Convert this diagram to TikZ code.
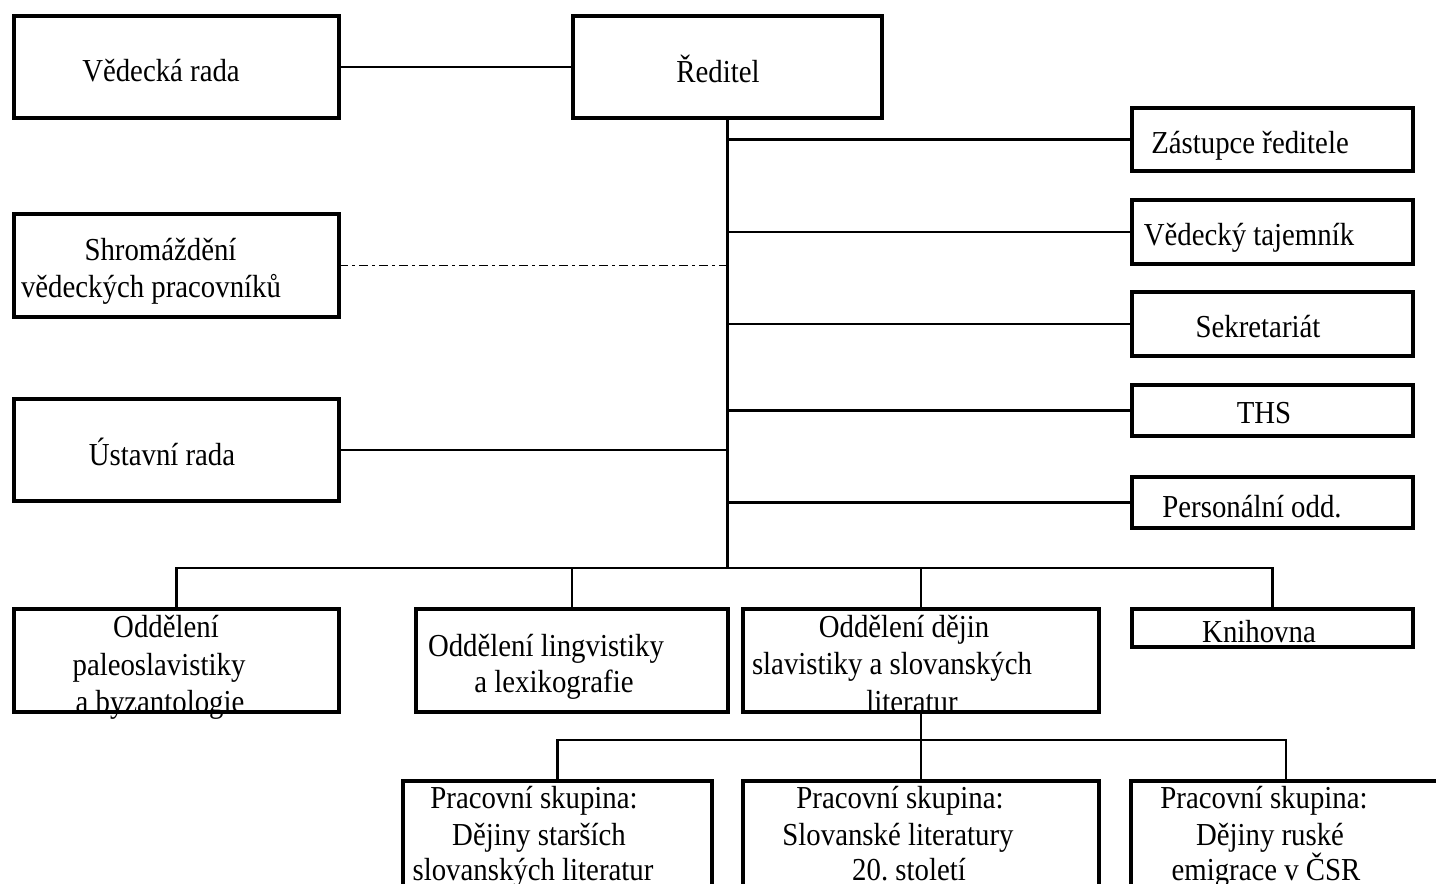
\documentclass[tikz,border=0pt]{standalone}
\usepackage{fontspec}
\setmainfont{Liberation Serif}[FakeStretch=0.9]
\frenchspacing
\begin{document}
\begin{tikzpicture}[x=1pt,y=-1pt,
  box/.style={draw, line width=3.6pt, inner sep=0pt, outer sep=0pt, rectangle},
  conn/.style={line width=2.6pt},
  txt/.style={anchor=base, inner sep=0pt, font=\fontsize{32}{37}\selectfont},
  ddot/.style={line width=1.5pt, dash pattern=on 9pt off 4pt on 3pt off 4pt}]
\useasboundingbox (0,0) rectangle (1436,884);
% boxes
\node[box, minimum width=325pt, minimum height=102pt] (vr) at (176.5,67) {};
\node[box, minimum width=309pt, minimum height=102pt] (dir) at (727.5,67) {};
\node[box, minimum width=325pt, minimum height=103pt] (sh) at (176.5,265.5) {};
\node[box, minimum width=325pt, minimum height=102pt] (ur) at (176.5,450) {};
\node[box, minimum width=281pt, minimum height=63pt] (zr) at (1272.5,139.5) {};
\node[box, minimum width=281pt, minimum height=64pt] (vt) at (1272.5,232) {};
\node[box, minimum width=281pt, minimum height=64pt] (sk) at (1272.5,324) {};
\node[box, minimum width=281pt, minimum height=51pt] (ths) at (1272.5,410.5) {};
\node[box, minimum width=281pt, minimum height=51pt] (po) at (1272.5,502.5) {};
\node[box, minimum width=325pt, minimum height=103pt] (op) at (176.5,660.5) {};
\node[box, minimum width=312pt, minimum height=103pt] (ol) at (572,660.5) {};
\node[box, minimum width=356pt, minimum height=103pt] (od) at (921,660.5) {};
\node[box, minimum width=281pt, minimum height=38pt] (kn) at (1272.5,628) {};
\node[box, minimum width=309pt, minimum height=158pt] (p1) at (557.5,860) {};
\node[box, minimum width=356pt, minimum height=158pt] (p2) at (921,860) {};
\node[box, minimum width=310pt, minimum height=158pt] (p3) at (1286,860) {};
% connectors
\coordinate (bus) at (727.5,568);
\coordinate (sbus) at (921,740);
\draw[conn] (vr.east) -- (dir.west);
\draw[conn] (dir.south) -- (bus);
\draw[conn] (dir.south |- zr.west) -- (zr.west);
\draw[conn] (dir.south |- vt.west) -- (vt.west);
\draw[conn] (dir.south |- sk.west) -- (sk.west);
\draw[conn] (dir.south |- ths.west) -- (ths.west);
\draw[conn] (dir.south |- po.west) -- (po.west);
\draw[ddot] (sh.east) -- (sh.east -| dir.south);
\draw[conn] (ur.east) -- (ur.east -| dir.south);
\draw[conn] (op.north) |- (kn.north |- bus) -- (kn.north);
\draw[conn] (ol.north) -- (ol.north |- bus);
\draw[conn] (od.north) -- (od.north |- bus);
\draw[conn] (p1.north) |- (p3.north |- sbus) -- (p3.north);
\draw[conn] (od.south) -- (p2.north);
% texts
\node[txt] (t-vr) at (161,81) {Vědecká rada};
\node[txt] (t-dir) at (718,82) {Ředitel};
\node[txt] (t-zr) at (1250,153) {Zástupce ředitele};
\node[txt] (t-vt) at (1249,245) {Vědecký tajemník};
\node[txt] (t-sk) at (1258,337) {Sekretariát};
\node[txt] (t-ths) at (1264,423) {THS};
\node[txt] (t-po) at (1252,517) {Personální odd.};
\node[txt] (t-sh1) at (160.5,260) {Shromáždění};
\node[txt] (t-sh2) at (151,297) {vědeckých pracovníků};
\node[txt] (t-ur) at (162,465) {Ústavní rada};
\node[txt] (t-op1) at (166,637) {Oddělení};
\node[txt] (t-op2) at (159,675) {paleoslavistiky};
\node[txt] (t-op3) at (160,712) {a byzantologie};
\node[txt] (t-ol1) at (546,656) {Oddělení lingvistiky};
\node[txt] (t-ol2) at (554,692) {a lexikografie};
\node[txt] (t-od1) at (904,637) {Oddělení dějin};
\node[txt] (t-od2) at (892,674) {slavistiky a slovanských};
\node[txt] (t-od3) at (912,712) {literatur};
\node[txt] (t-kn) at (1259,642) {Knihovna};
\node[txt] (t-p1a) at (534,808) {Pracovní skupina:};
\node[txt] (t-p1b) at (539,845) {Dějiny starších};
\node[txt] (t-p1c) at (533,880) {slovanských literatur};
\node[txt] (t-p2a) at (900,808) {Pracovní skupina:};
\node[txt] (t-p2b) at (898,845) {Slovanské literatury};
\node[txt] (t-p2c) at (909,880) {20. století};
\node[txt] (t-p3a) at (1264,808) {Pracovní skupina:};
\node[txt] (t-p3b) at (1270,845) {Dějiny ruské};
\node[txt] (t-p3c) at (1266,880) {emigrace v ČSR};
\end{tikzpicture}
\end{document}
